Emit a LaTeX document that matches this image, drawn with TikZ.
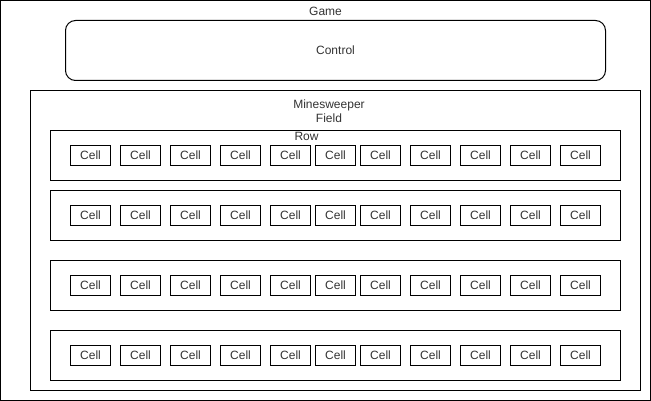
\documentclass[tikz,border=0pt]{standalone}
\usepackage{fontspec}
\setmainfont{Liberation Sans}
\begin{document}
\begin{tikzpicture}[x=1pt,y=-1pt,
  box/.style={draw,line width=1pt,inner sep=0pt,outer sep=0pt},
  cellbox/.style={box,minimum width=40pt,minimum height=20pt,font=\fontsize{12}{14}\selectfont,text=black!80},
  lbl/.style={font=\fontsize{12}{14}\selectfont,text=black!80,inner sep=0pt,align=center}]
\useasboundingbox (0,0) rectangle (651,401);
\fill[white] (0,0) rectangle (651,401);
\node[box,minimum width=650pt,minimum height=400pt,anchor=north west] (game) at (0.5,0.5) {};
\node[lbl] (gamelbl) at (325.5,11) {Game};
\node[box,rounded corners=10pt,minimum width=540pt,minimum height=60pt,anchor=north west] (control) at (65.5,20.5) {};
\node[lbl] (controllbl) at (control.center) {Control};
\node[box,minimum width=610pt,minimum height=300pt,anchor=north west] (field) at (30.5,90.5) {};
\node[lbl,align=center] (fieldlbl) at (329,111) {Minesweeper\\Field};
\foreach \r/\y in {1/130,2/190,3/260,4/330}{
  \node[box,minimum width=570pt,minimum height=50pt,anchor=north west] (row\r) at (50.5,\y.5) {};
}
\node[lbl] (rowlbl) at (306.5,136) {Row};
\foreach \r/\y in {1/155,2/215,3/285,4/355}{
  \foreach \i/\x in {1/90,2/140,3/190,4/240,5/290,6/335,7/380,8/430,9/480,10/530,11/580}{
    \node[cellbox] (c\r-\i) at (\x.5,\y.5) {Cell};
  }
}
\end{tikzpicture}
\end{document}
